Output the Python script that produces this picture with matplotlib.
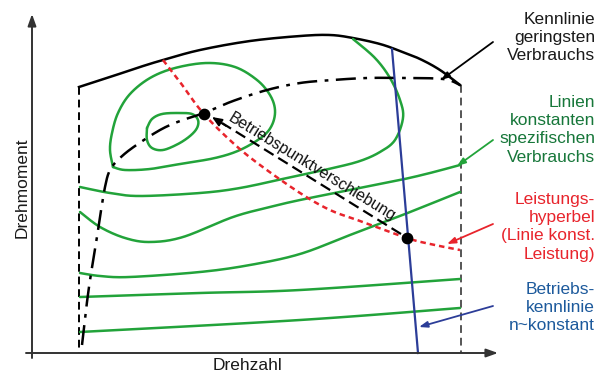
import numpy as np
import matplotlib
matplotlib.use("Agg")
import matplotlib.pyplot as plt

plt.rcParams['font.family'] = ['Liberation Sans', 'DejaVu Sans']

# ---------------------------------------------------------------
# schematic engine map, coordinates (pixels,
# x to the right, y downwards)
# ---------------------------------------------------------------
full_load_x = [79, 110, 140, 163, 200, 250, 300, 330, 353, 380, 400, 420, 440, 460]
full_load_y = [87, 77, 67, 60, 50, 41, 36, 35, 38, 44, 51, 59, 70, 85]

min_cons_x = [82, 86, 90, 95, 100, 105, 110, 120, 135, 160, 180, 204, 233, 267, 300, 333, 367, 400, 443, 460]
min_cons_y = [345, 310, 280, 250, 217, 187, 170, 158, 146, 130, 121, 113, 101, 90, 83, 80, 78, 78, 79, 85]

# lines of constant specific consumption
loop_big_x = [113, 110, 112, 118, 130, 150, 175, 207, 235, 257, 270, 275, 272, 262, 240, 215, 180, 150, 125, 113]
loop_big_y = [167, 150, 133, 113, 94, 78, 68, 63, 67, 80, 95, 110, 125, 137, 150, 158, 164, 169, 170, 167]
loop_small_x = [147, 152, 162, 178, 192, 198, 197, 190, 178, 163, 152, 147, 147]
loop_small_y = [128, 119, 114, 113, 114, 120, 128, 136, 144, 150, 148, 140, 128]
bsfc_2_x = [80, 110, 140, 200, 240, 287, 333, 360, 380, 395, 403, 400, 390, 375, 353]
bsfc_2_y = [187, 193, 196, 193, 188, 178, 168, 161, 152, 140, 118, 100, 78, 58, 39]
bsfc_3_x = [80, 100, 125, 150, 183, 233, 270, 300, 350, 400, 430, 460]
bsfc_3_y = [212, 227, 238, 242, 237, 217, 207, 200, 190, 180, 173, 165]
bsfc_4_x = [80, 100, 130, 200, 250, 300, 350, 400, 460]
bsfc_4_y = [273, 276, 277, 272, 265, 254, 235, 216, 192]
bsfc_5_x = [80, 200, 300, 460]
bsfc_5_y = [297, 293, 290, 279]
bsfc_6_x = [80, 300, 460]
bsfc_6_y = [332, 320, 308]

# power hyperbola
hyper_x = [163, 180, 203, 233, 260, 300, 330, 360, 407, 430, 460]
hyper_y = [60, 82, 113, 143, 165, 193, 210, 221, 238, 244, 250]

# operating line n ~ const
oper_x = [392, 418]
oper_y = [49, 353]

# operating points
points_x = [204, 407]
points_y = [114, 238]

labels = {
    "kennlinie": ["Kennlinie", "geringsten", "Verbrauchs"],
    "linien": ["Linien", "konstanten", "spezifischen", "Verbrauchs"],
    "leistung": ["Leistungs-", "hyperbel", "(Linie konst.", "Leistung)"],
    "betrieb": ["Betriebs-", "kennlinie", "n~konstant"],
}
label_base = {"kennlinie": 24, "linien": 107, "leistung": 204, "betrieb": 294}

GREEN = "#22a33a"
GREEN_TXT = "#17773a"
RED = "#e8242c"
BLUE = "#2c3d98"
BLUE_TXT = "#1d5a9c"
GREY = "#333333"


def smooth(xs, ys, n=20):
    """Catmull-Rom through the read points, just for drawing."""
    p = np.column_stack([xs, ys]).astype(float)
    p = np.vstack([p[0], p, p[-1]])
    out = []
    for i in range(1, len(p) - 2):
        p0, p1, p2, p3 = p[i - 1], p[i], p[i + 1], p[i + 2]
        t = np.linspace(0, 1, n, endpoint=False)[:, None]
        out.append(0.5 * ((2 * p1) + (-p0 + p2) * t
                          + (2 * p0 - 5 * p1 + 4 * p2 - p3) * t**2
                          + (-p0 + 3 * p1 - 3 * p2 + p3) * t**3))
    out.append(p[-2][None, :])
    out = np.vstack(out)
    return out[:, 0], out[:, 1]


fig = plt.figure(figsize=(6.04, 3.72), dpi=100)
ax = fig.add_axes([0, 0, 1, 1])
ax.set_xlim(0, 604)
ax.set_ylim(372, 0)
ax.axis("off")

# axes arrows
ax.annotate("", xy=(32, 14), xytext=(32, 358),
            arrowprops=dict(arrowstyle="-|>,head_length=0.7,head_width=0.25",
                            lw=1.4, color=GREY, shrinkA=0, shrinkB=0))
ax.annotate("", xy=(498, 353), xytext=(26, 353),
            arrowprops=dict(arrowstyle="-|>,head_length=0.7,head_width=0.25",
                            lw=1.4, color=GREY, shrinkA=0, shrinkB=0))

# map boundaries
ax.plot([79, 79], [87, 353], color="black", lw=1.4, ls=(0, (4, 2.5)))
ax.plot([461, 461], [85, 353], color="#555555", lw=1.4, ls=(0, (4, 2.5)))
ax.plot(*smooth(full_load_x, full_load_y), color="black", lw=1.8)

# constant consumption lines
for xs, ys in [(loop_big_x, loop_big_y), (loop_small_x, loop_small_y),
               (bsfc_2_x, bsfc_2_y), (bsfc_3_x, bsfc_3_y), (bsfc_4_x, bsfc_4_y),
               (bsfc_5_x, bsfc_5_y), (bsfc_6_x, bsfc_6_y)]:
    ax.plot(*smooth(xs, ys), color=GREEN, lw=1.8, solid_capstyle="round")

# min consumption line (dash-dot)
ax.plot(*smooth(min_cons_x, min_cons_y), color="black", lw=1.8,
        ls=(0, (8, 3, 1.5, 3)))

# power hyperbola
ax.plot(*smooth(hyper_x, hyper_y), color=RED, lw=1.8, ls=(0, (2.2, 1.6)))

# operating line
ax.plot(oper_x, oper_y, color=BLUE, lw=1.6)

# shift of operating point
ax.plot([points_x[1] - 6, 222], [points_y[1] - 4, 123], color="black", lw=1.6,
        ls=(0, (5, 2.5)))
ax.annotate("", xy=(212, 117), xytext=(226, 126),
            arrowprops=dict(arrowstyle="-|>,head_length=0.6,head_width=0.25",
                            lw=1.2, color="black", shrinkA=0, shrinkB=0))
ax.scatter(points_x, points_y, s=55, color="black", zorder=5)
ax.text(312, 167, "Betriebspunktverschiebung", fontsize=11.5, rotation=-31.5,
        rotation_mode="anchor", ha="center", va="center", color="#111111")

# annotation arrows
for (x0, y0, x1, y1, c) in [(493, 42, 441, 80, "black"), (493, 140, 457, 166, GREEN),
                            (493, 224, 447, 244, RED), (493, 306, 419, 327, BLUE)]:
    ax.annotate("", xy=(x1, y1), xytext=(x0, y0),
                arrowprops=dict(arrowstyle="-|>,head_length=0.5,head_width=0.18",
                                lw=1.3, color=c, shrinkA=0, shrinkB=0))

# labels on the right
label_col = {"kennlinie": "#1a1a1a", "linien": GREEN_TXT,
             "leistung": RED, "betrieb": BLUE_TXT}
for key, lines in labels.items():
    for i, line in enumerate(lines):
        ax.text(595, label_base[key] + 18.2 * i, line, fontsize=12.5,
                ha="right", va="baseline", color=label_col[key])

ax.text(22, 188, "Drehmoment", fontsize=12.5, rotation=90, ha="center",
        va="center", color="#1a1a1a")
ax.text(248, 370, "Drehzahl", fontsize=12.5, ha="center", va="baseline",
        color="#1a1a1a")

fig.savefig("out.png", dpi=100, facecolor="white")
